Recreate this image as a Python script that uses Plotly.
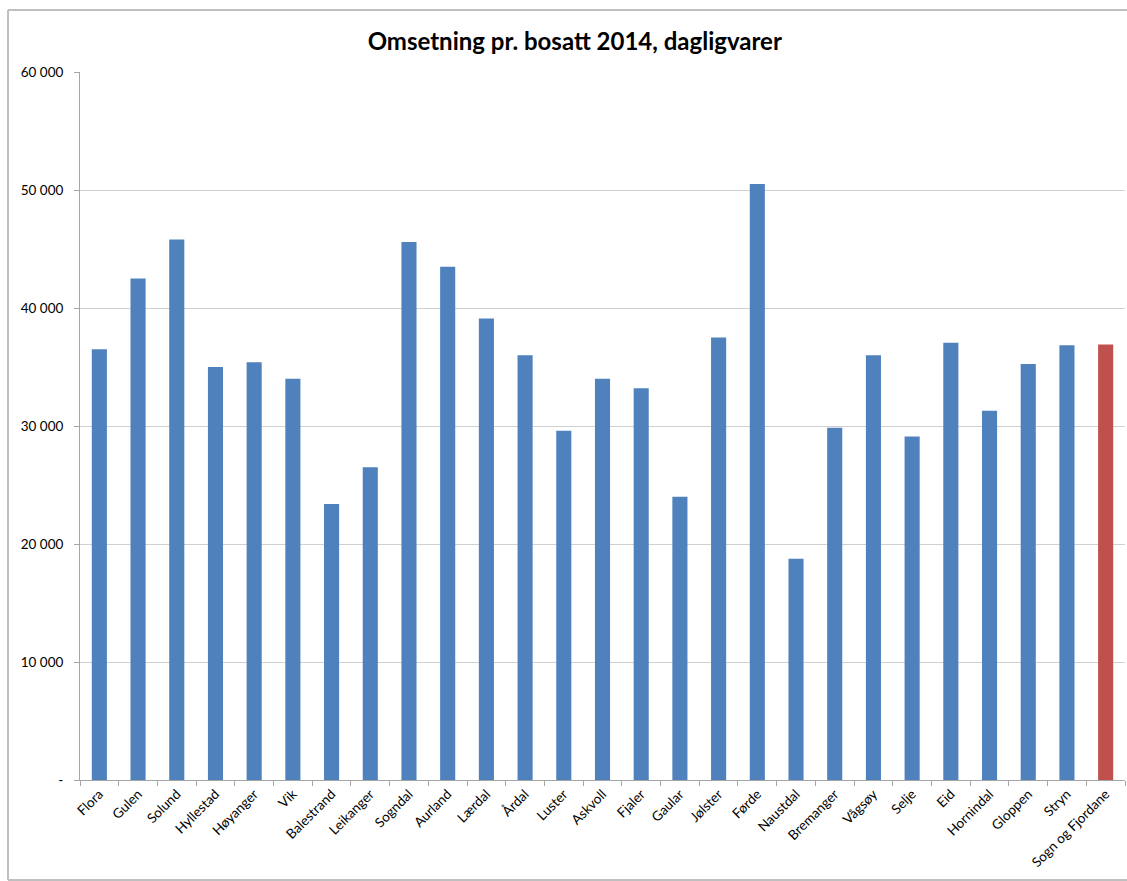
import plotly.graph_objects as go

# Municipalities in Sogn og Fjordane, plus the county total at the end
kommuner = [
    "Flora", "Gulen", "Solund", "Hyllestad", "Høyanger", "Vik", "Balestrand",
    "Leikanger", "Sogndal", "Aurland", "Lærdal", "Årdal", "Luster", "Askvoll",
    "Fjaler", "Gaular", "Jølster", "Førde", "Naustdal", "Bremanger", "Vågsøy",
    "Selje", "Eid", "Hornindal", "Gloppen", "Stryn", "Sogn og Fjordane",
]

# Grocery turnover per resident 2014 (NOK)
omsetning = [
    36500, 42500, 45800, 35000, 35400, 34000, 23400,
    26500, 45600, 43500, 39100, 36000, 29600, 34000,
    33200, 24000, 37500, 50500, 18750, 29850, 36000,
    29100, 37050, 31300, 35250, 36850, 36900,
]

y_tick_vals = [0, 10000, 20000, 30000, 40000, 50000, 60000]
y_tick_text = ["-", "10 000", "20 000", "30 000", "40 000", "50 000", "60 000"]

BLUE = "#4F81BD"
RED = "#C0504D"
bar_colors = [RED if k == "Sogn og Fjordane" else BLUE for k in kommuner]

fig = go.Figure(
    go.Bar(
        x=kommuner,
        y=omsetning,
        marker=dict(color=bar_colors, line=dict(width=0)),
        hoverinfo="x+y",
    )
)

W, H = 1127, 881
ml, mr, mt, mb = 80, 2, 72, 101

fig.update_layout(
    width=W,
    height=H,
    margin=dict(l=ml, r=mr, t=mt, b=mb),
    paper_bgcolor="white",
    plot_bgcolor="white",
    showlegend=False,
    bargap=0.61,
    font=dict(family="Lato, Open Sans, sans-serif", size=13, color="#000000"),
    title=dict(
        text="<b>Omsetning pr. bosatt 2014, dagligvarer</b>",
        x=0.51,
        xanchor="center",
        y=1 - 42 / H,
        yanchor="middle",
        font=dict(family="Lato, Open Sans, sans-serif", size=24, color="#000000"),
    ),
    xaxis=dict(
        tickangle=-45,
        showgrid=False,
        showline=True,
        linecolor="#A6A6A6",
        linewidth=1,
        ticks="outside",
        tickson="boundaries",
        ticklen=5,
        tickcolor="#A6A6A6",
        tickfont=dict(size=13.5),
    ),
    yaxis=dict(
        range=[0, 60000],
        tickvals=y_tick_vals,
        ticktext=y_tick_text,
        showgrid=True,
        gridcolor="#D0D0D0",
        gridwidth=1,
        showline=True,
        linecolor="#A6A6A6",
        linewidth=1,
        ticks="outside",
        ticklen=5,
        tickcolor="#A6A6A6",
        ticklabelstandoff=8,
        zeroline=False,
        tickfont=dict(size=13.5),
    ),
)

# Chart frame: left, top and bottom edges around the figure
pw = W - ml - mr
ph = H - mt - mb
fx0 = (8 - ml) / pw
fx1 = 1 + (mr + 40) / pw
fy_top = 1 + (mt - 10) / ph
fy_bot = -(mb - 1) / ph
frame = dict(color="#BFBFBF", width=2)
for x0, x1, y0, y1 in [
    (fx0, fx0, fy_bot, fy_top),
    (fx0, fx1, fy_top, fy_top),
    (fx0, fx1, fy_bot, fy_bot),
]:
    fig.add_shape(
        type="line", xref="paper", yref="paper",
        x0=x0, x1=x1, y0=y0, y1=y1, line=frame, layer="below",
    )

fig.write_html("out.html")
